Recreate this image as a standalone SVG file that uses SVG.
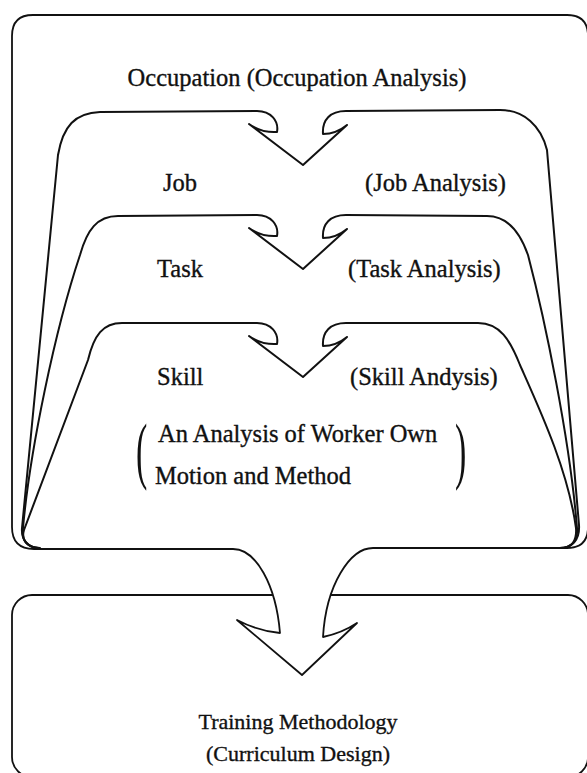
<svg xmlns="http://www.w3.org/2000/svg" width="587" height="773" viewBox="0 0 587 773">
<style>
.ln{fill:none;stroke:#111;stroke-width:2;stroke-linejoin:round;stroke-linecap:round}
.box{fill:#fff;stroke:#111;stroke-width:1.8;stroke-linejoin:round}
.t{font-family:"Liberation Serif","Times New Roman",serif;font-size:24.5px;fill:#111;stroke:#111;stroke-width:0.35}
.p{font-family:"Liberation Serif","Times New Roman",serif;font-size:34px;fill:#111}
</style>
<rect width="587" height="773" fill="#fff"/>
<g id="training">
<rect class="box" x="12" y="595" width="576" height="182" rx="20"/>
<text class="t" x="298" y="729" text-anchor="middle" style="font-size:22px">Training Methodology</text>
<text class="t" x="298" y="761" text-anchor="middle" style="font-size:22px">(Curriculum Design)</text>
</g>
<g id="occupation">
<path class="box" d="M12,36 Q12,15 33,15 L567,15 Q588,15 588,36 L588,527 Q588,548 567,548 L373,548 C350,548 326,585 323,637 Q342,633 357,623 L302,675 L237,620 Q258,631 280,633 C276,585 256,549 233,549 L34,549 Q12,549 12,527 Z"/>
<text class="t" x="297" y="86" text-anchor="middle">Occupation (Occupation Analysis)</text>
</g>
<g id="connectors">
<path id="job-shape" class="ln" d="M40,548 C28,548 21,540 22,528 L58,155 C63,126 75,113 100,112 L257,111 C271,111 279,121 277,132 Q262,133 249,124 L303,165 L347,125 Q336,134 323,134 C322,120 330,111 346,111 L500,110 C524,110 541,126 547,150 L579,525 C580,540 572,548 560,548"/>
<path id="task-shape" class="ln" d="M38,548 C27,547 21,540 23,528 C30,450 55,330 80,255 C87,230 97,216 118,216 L257,215 C271,215 279,225 277,236 Q262,237 249,228 L303,269 L347,229 Q336,238 323,238 C322,224 330,215 346,215 L487,216 C507,216 520,232 528,255 C545,320 570,440 577,528 C578,541 572,548 560,548"/>
<path id="skill-shape" class="ln" d="M38,548 C27,547 21,540 24,530 L88,360 C94,335 103,323 122,323 L257,323 C271,323 279,333 277,344 Q262,345 249,336 L303,377 L347,337 Q336,346 323,346 C322,332 330,323 346,323 L478,323 C500,323 510,340 520,365 C540,410 568,470 576,528 C577,541 572,548 560,548"/>
</g>
<g id="job">
<text class="t" x="163" y="191">Job</text>
<text class="t" x="365" y="191">(Job Analysis)</text>
</g>
<g id="task">
<text class="t" x="157" y="277">Task</text>
<text class="t" x="348" y="277">(Task Analysis)</text>
</g>
<g id="skill">
<text class="t" x="157" y="385">Skill</text>
<text class="t" x="350" y="385">(Skill Andysis)</text>
</g>
<g id="worker">
<text class="p" transform="translate(136,475) scale(1,2.2)">(</text>
<text class="t" x="158" y="442">An Analysis of Worker Own</text>
<text class="t" x="155" y="484">Motion and Method</text>
<text class="p" transform="translate(455,475) scale(1,2.2)">)</text>
</g>
</svg>
